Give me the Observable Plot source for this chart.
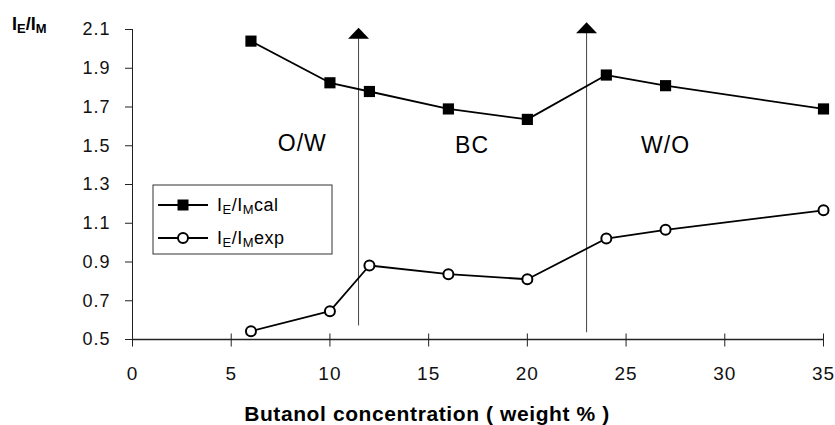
<!DOCTYPE html>
<html><head><meta charset="utf-8">
<script src="https://cdn.jsdelivr.net/npm/d3@7"></script>
<script src="https://cdn.jsdelivr.net/npm/@observablehq/plot@0.6"></script>
<style>
body{margin:0;background:#fff;}
#chart svg{font-family:"Liberation Sans",Arial,sans-serif;background:#fff;}
</style></head><body><div id="chart"></div>
<script>
// Data
const butanol = [6, 10, 12, 16, 20, 24, 27, 35];
const ieImCal = [2.04, 1.825, 1.78, 1.69, 1.636, 1.865, 1.81, 1.69];
const ieImExp = [0.543, 0.646, 0.882, 0.837, 0.811, 1.021, 1.066, 1.167];
const xTicks = [0, 5, 10, 15, 20, 25, 30, 35];
const yTicks = [0.5, 0.7, 0.9, 1.1, 1.3, 1.5, 1.7, 1.9, 2.1];
const boundaryX = [11.45, 23];
const boundaryLow = [0.57, 0.535];
const boundaryHigh = [2.052, 2.081];
const regionNames = ["O/W", "BC", "W/O"];
const regionX = [8.6, 17.2, 27];
const regionY = [1.51, 1.5, 1.5];

const calData = butanol.map((x, i) => ({x, y: ieImCal[i]}));
const expData = butanol.map((x, i) => ({x, y: ieImExp[i]}));
const boundaries = boundaryX.map((x, i) => ({x, y1: boundaryLow[i], y2: boundaryHigh[i]}));
const regions = regionNames.map((t, i) => ({t, x: regionX[i], y: regionY[i]}));

const headUp = {draw(ctx) { ctx.moveTo(0, -11); ctx.lineTo(10.5, 0); ctx.lineTo(-10.5, 0); ctx.closePath(); }};
const crossTick = {draw(ctx) { ctx.moveTo(0, -6); ctx.lineTo(0, 7); }};

const chart = Plot.plot({
  width: 835, height: 425,
  marginLeft: 132, marginRight: 12, marginTop: 29, marginBottom: 86,
  x: {domain: [0, 35]},
  y: {domain: [0.5, 2.1]},
  style: {fontFamily: "Liberation Sans, Arial, sans-serif", color: "#111"},
  marks: [
    Plot.axisY(yTicks, {tickSize: 7, tickPadding: 15, fontSize: 18, label: null, tickFormat: d3.format(".1f"), stroke: "#222", fill: "#111"}),
    Plot.axisX(xTicks, {tickSize: 0, tickPadding: 27, fontSize: 19, label: null, fill: "#111"}),
    Plot.ruleX([0], {stroke: "#222", strokeWidth: 1}),
    Plot.ruleY([0.5], {stroke: "#222", strokeWidth: 1.3}),
    Plot.dot(xTicks, {x: d => d, frameAnchor: "bottom", symbol: crossTick, stroke: "#222", fill: "none", strokeWidth: 1}),
    Plot.ruleX(boundaries, {x: "x", y1: "y1", y2: "y2", stroke: "#444", strokeWidth: 1}),
    Plot.dot(boundaries, {x: "x", y: "y2", symbol: headUp, fill: "#000", stroke: "none"}),
    Plot.line(calData, {x: "x", y: "y", stroke: "#000", strokeWidth: 1.8}),
    Plot.line(expData, {x: "x", y: "y", stroke: "#000", strokeWidth: 1.8}),
    Plot.dot(calData, {x: "x", y: "y", symbol: "square", r: 6.3, fill: "#000", stroke: "none"}),
    Plot.dot(expData, {x: "x", y: "y", symbol: "circle", r: 5, fill: "#fff", stroke: "#000", strokeWidth: 2}),
    Plot.text(regions, {x: "x", y: "y", text: "t", fontSize: 23, fill: "#000"})
  ]
});
document.getElementById("chart").appendChild(chart);

const svg = d3.select(chart);
svg.selectAll("text").style("letter-spacing", "1px");
const ff = "Liberation Sans, Arial, sans-serif";
function subLabel(g, x, y, size, parts) {
  const t = g.append("text").attr("x", x).attr("y", y).attr("text-anchor", "start")
    .attr("font-family", ff).attr("font-size", size).attr("fill", "#000");
  let shifted = 0;
  parts.forEach(([s, sub]) => {
    const ts = t.append("tspan").text(s);
    if (sub) {
      ts.attr("font-size", size * 0.72).attr("dy", shifted ? 0 : 3);
      shifted = 3;
    } else {
      ts.attr("dy", shifted ? -3 : 0);
      shifted = 0;
    }
  });
  return t;
}
// Y title I_E/I_M
subLabel(svg, 12, 30, 18, [["I"], ["E", 1], ["/I"], ["M", 1]]).attr("font-weight", "bold");

// Legend
const lg = svg.append("g");
lg.append("rect").attr("x", 153).attr("y", 185).attr("width", 179).attr("height", 69)
  .attr("fill", "#fff").attr("stroke", "#333").attr("stroke-width", 1);
const rows = [{y: 205, kind: "cal", parts: [["I"], ["E", 1], ["/I"], ["M", 1], ["cal"]]},
              {y: 238, kind: "exp", parts: [["I"], ["E", 1], ["/I"], ["M", 1], ["exp"]]}];
rows.forEach(r => {
  lg.append("line").attr("x1", 158).attr("x2", 208).attr("y1", r.y).attr("y2", r.y).attr("stroke", "#000").attr("stroke-width", 1.8);
  if (r.kind === "cal") lg.append("rect").attr("x", 177.5).attr("y", r.y - 5.5).attr("width", 11).attr("height", 11).attr("fill", "#000");
  else lg.append("circle").attr("cx", 183).attr("cy", r.y).attr("r", 5).attr("fill", "#fff").attr("stroke", "#000").attr("stroke-width", 2);
  subLabel(lg, 217, r.y + 6, 18, r.parts).style("letter-spacing", "0.5px");
});

// X title
svg.append("text").attr("x", 427).attr("y", 421).attr("text-anchor", "middle")
  .attr("font-family", ff).attr("font-size", 21).attr("font-weight", "bold").attr("fill", "#000")
  .style("letter-spacing", "0.6px")
  .text("Butanol concentration ( weight % )");
</script></body></html>
